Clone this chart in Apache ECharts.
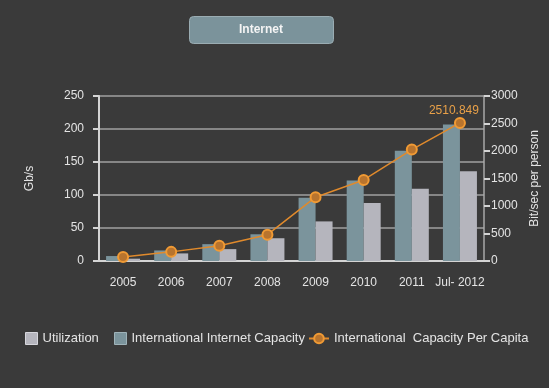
<!DOCTYPE html>
<html>
<head>
<meta charset="utf-8">
<script src="https://cdn.jsdelivr.net/npm/echarts@6/dist/echarts.min.js"></script>
<style>
html,body{margin:0;padding:0;background:#3a3a3a;}
#c{width:549px;height:388px;}
</style>
</head>
<body>
<div id="c"></div>
<script>
var categories = ['2005','2006','2007','2008','2009','2010','2011','Jul- 2012'];
var capacity = [7.5, 16, 25.5, 40.5, 96, 122, 167, 207];
var utilization = [3.5, 11.5, 18, 34.5, 60, 88, 109.5, 136];
var perCapita = [74, 166, 276, 479, 1160, 1473, 2026, 2510.849];
var leftTicks = [0, 250, 50];
var rightTicks = [0, 3000, 500];

var txt = '#e4e4e4';
var font = 'Liberation Sans, Arial, sans-serif';
var chart = echarts.init(document.getElementById('c'));
chart.setOption({
  backgroundColor: '#3a3a3a',
  animation: false,
  textStyle: {fontFamily: font},
  graphic: [
    {type: 'rect', shape: {x: 189.5, y: 16.5, width: 144, height: 27, r: 4},
     style: {fill: '#7b939b', stroke: '#9aacb2', lineWidth: 1}},
    {type: 'text', x: 261, y: 30, style: {text: 'Internet', fill: '#f4f4f4', font: 'bold 12px ' + font, align: 'center', verticalAlign: 'middle'}}
  ],
  legend: [
    {data: ['Utilization'], left: 25, top: 332, padding: 0, itemWidth: 12, itemHeight: 12,
     textStyle: {color: txt, fontSize: 13, fontFamily: font}, icon: 'rect',
     itemStyle: {borderColor: '#d6d6dc', borderWidth: 1}},
    {data: ['International Internet Capacity'], left: 114, top: 332, padding: 0, itemWidth: 12, itemHeight: 12,
     textStyle: {color: txt, fontSize: 13, fontFamily: font}, icon: 'rect',
     itemStyle: {borderColor: '#9fb3b9', borderWidth: 1}},
    {data: ['International  Capacity Per Capita'], left: 308, top: 332, padding: 0, itemWidth: 20, itemHeight: 12,
     textStyle: {color: txt, fontSize: 13, fontFamily: font}}
  ],
  grid: {left: 99, right: 60, top: 96, bottom: 127, containLabel: false},
  xAxis: {
    type: 'category', data: categories,
    axisLine: {lineStyle: {color: '#d4d4d4', width: 2}},
    axisTick: {show: false},
    axisLabel: {color: txt, fontSize: 12, margin: 16, interval: 0, fontFamily: font}
  },
  yAxis: [
    {type: 'value', min: leftTicks[0], max: leftTicks[1], interval: leftTicks[2],
     name: 'Gb/s', nameLocation: 'middle', nameGap: 63, nameRotate: 90,
     nameTextStyle: {color: txt, fontSize: 12, fontFamily: font},
     axisLine: {show: true, lineStyle: {color: '#d4d4d4', width: 2}},
     axisTick: {show: true, length: 6, lineStyle: {color: '#d4d4d4', width: 2}},
     axisLabel: {color: txt, fontSize: 12, margin: 15, fontFamily: font},
     splitLine: {show: true, lineStyle: {color: '#a0a0a0', width: 1.5}}},
    {type: 'value', min: rightTicks[0], max: rightTicks[1], interval: rightTicks[2],
     name: 'Bit/sec per person', nameLocation: 'middle', nameGap: 45, nameRotate: 90,
     nameTextStyle: {color: txt, fontSize: 12, fontFamily: font},
     axisLine: {show: true, lineStyle: {color: '#a8a8a8', width: 1.5}},
     axisTick: {show: true, length: 6, lineStyle: {color: '#d4d4d4', width: 2}},
     axisLabel: {color: txt, fontSize: 12, margin: 7, fontFamily: font,
       formatter: function(v){ return String(v); }},
     splitLine: {show: false}}
  ],
  series: [
    {name: 'International Internet Capacity', type: 'bar', data: capacity, barWidth: 17, barGap: '0%',
     itemStyle: {color: '#7b949c'}},
    {name: 'Utilization', type: 'bar', data: utilization, barWidth: 17,
     itemStyle: {color: '#b5b5bd'}},
    {name: 'International  Capacity Per Capita', type: 'line', yAxisIndex: 1, data: perCapita,
     symbol: 'circle', symbolSize: 10,
     lineStyle: {color: '#e08a2c', width: 1.5},
     itemStyle: {color: '#b8742e', borderColor: '#f09a34', borderWidth: 2},
     label: {show: true, color: '#e8a048', fontSize: 12, fontFamily: font,
       position: 'top', offset: [-6, 5],
       formatter: function(p){ return p.dataIndex === perCapita.length - 1 ? String(p.value) : ''; }}}
  ]
});
</script>
</body>
</html>
